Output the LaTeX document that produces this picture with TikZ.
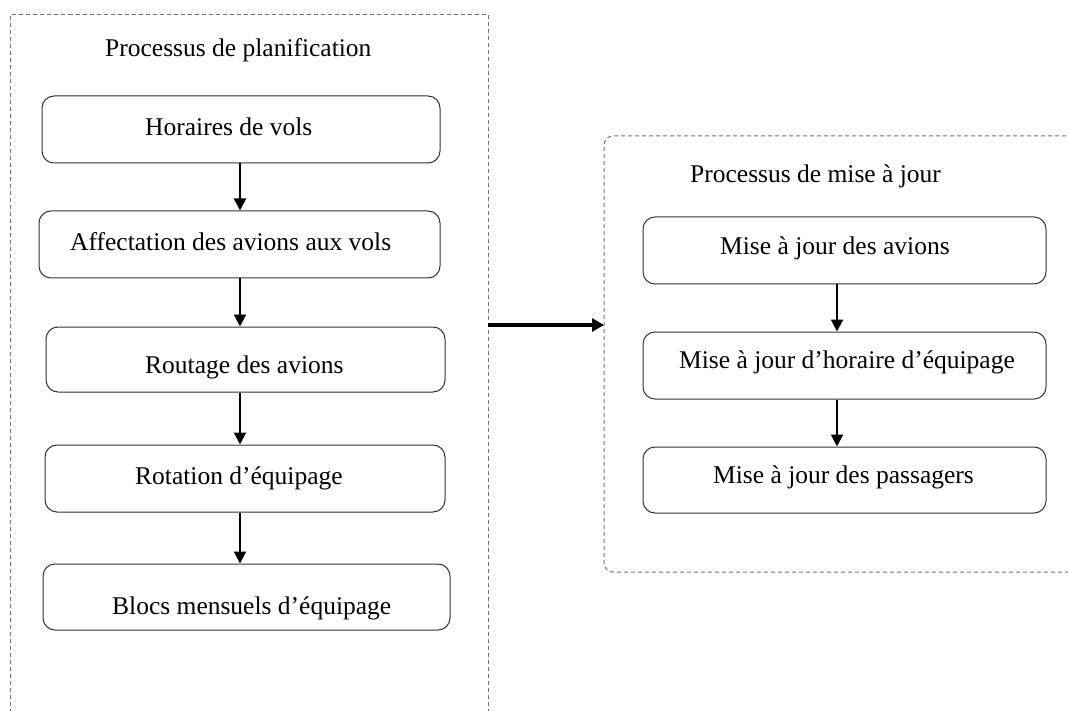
\documentclass[tikz,border=0pt]{standalone}
\usepackage{fontspec}
\setmainfont{Liberation Serif}
\usetikzlibrary{arrows.meta}
\begin{document}
\begin{tikzpicture}[x=1pt,y=-1pt,
  stepbox/.style={draw=black!80,line width=1pt,rounded corners=12pt,inner sep=0pt},
  lbl/.style={anchor=base west,inner sep=0pt,font=\fontsize{25.5}{30}\selectfont},
  container/.style={draw=black!55,line width=1pt,dash pattern=on 4pt off 3pt},
  arr/.style={line width=2pt,-{Triangle[length=12pt,width=12pt]}},
  bigarr/.style={line width=4pt,-{Triangle[length=12pt,width=13pt]}}]
\useasboundingbox (0,0) rectangle (1068,711);
% containers
\draw[container] (10.5,720) -- (10.5,15) -- (488,15) -- (488,720);
\draw[container,rounded corners=9pt] (1080,136) -- (604,136) -- (604,572) -- (1080,572);
\node[lbl] (t1) at (105,57) {Processus de planification};
\node[lbl] (t2) at (690,183) {Processus de mise à jour};
% left boxes
\node[stepbox,minimum width=398pt,minimum height=67pt] (b1) at (241,129.5) {};
\node[stepbox,minimum width=401pt,minimum height=67pt] (b2) at (239.5,244.5) {};
\node[stepbox,minimum width=399pt,minimum height=65pt] (b3) at (245.5,359.5) {};
\node[stepbox,minimum width=400pt,minimum height=67pt] (b4) at (245,478.5) {};
\node[stepbox,minimum width=407pt,minimum height=66pt] (b5) at (246.5,597) {};
\node[lbl] (l1) at (145,136) {Horaires de vols};
\node[lbl] (l2) at (70,251) {Affectation des avions aux vols};
\node[lbl] (l3) at (145,373) {Routage des avions};
\node[lbl] (l4) at (135,484) {Rotation d’équipage};
\node[lbl] (l5) at (112,614) {Blocs mensuels d’équipage};
% right boxes
\node[stepbox,minimum width=403pt,minimum height=67pt] (r1) at (844.5,250.5) {};
\node[stepbox,minimum width=403pt,minimum height=67pt] (r2) at (844.5,365.5) {};
\node[stepbox,minimum width=403pt,minimum height=66pt] (r3) at (844.5,480) {};
\node[lbl] (m1) at (720,255) {Mise à jour des avions};
\node[lbl] (m2) at (679,368) {Mise à jour d’horaire d’équipage};
\node[lbl] (m3) at (713,483) {Mise à jour des passagers};
% arrows
\coordinate (ax) at (240,0);
\coordinate (bx) at (837,0);
\draw[arr] (b1.south -| ax) -- (b2.north -| ax);
\draw[arr] (b2.south -| ax) -- (b3.north -| ax);
\draw[arr] (b3.south -| ax) -- (b4.north -| ax);
\draw[arr] (b4.south -| ax) -- (b5.north -| ax);
\draw[arr] (r1.south -| bx) -- (r2.north -| bx);
\draw[arr] (r2.south -| bx) -- (r3.north -| bx);
\coordinate (lr) at (488,325);
\coordinate (rl) at (604,325);
\draw[bigarr] (lr) -- (rl);
\end{tikzpicture}
\end{document}
